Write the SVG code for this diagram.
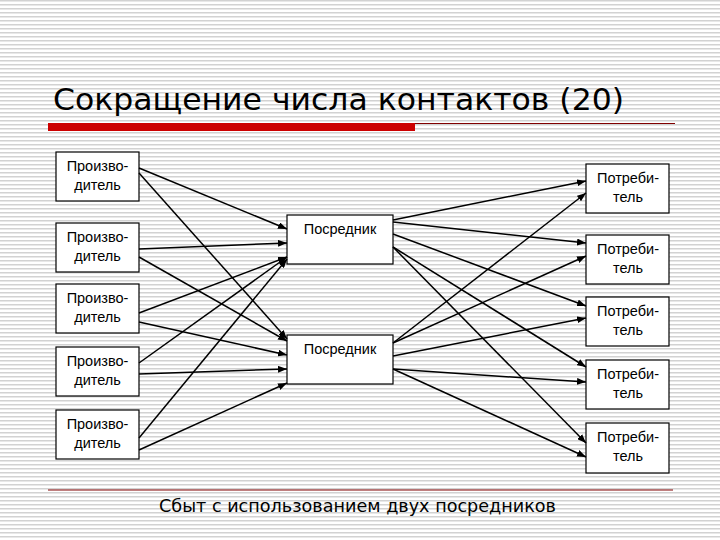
<svg xmlns="http://www.w3.org/2000/svg" width="720" height="540" viewBox="0 0 720 540">
<defs>
<pattern id="stripes" x="0" y="0" width="8" height="4" patternUnits="userSpaceOnUse">
<rect x="0" y="0" width="8" height="4" fill="#ffffff"/>
<rect x="0" y="0" width="8" height="1.5" fill="#d2d2d2"/>
</pattern>
<marker id="arr" markerUnits="userSpaceOnUse" markerWidth="9" markerHeight="7" refX="9" refY="3.5" orient="auto">
<path d="M0,0 L9,3.5 L0,7 z" fill="#000"/>
</marker>
</defs>
<style>
.box{fill:#fff;stroke:#000;stroke-width:1.2}
.lbl{font-family:"Liberation Sans",Arial,sans-serif;font-size:14.5px;fill:#000;text-anchor:middle}
.con line{stroke:#000;stroke-width:1.5;marker-end:url(#arr)}
</style>
<rect x="0" y="0" width="720" height="540" fill="url(#stripes)"/>
<text x="53" y="110" font-family="'DejaVu Sans',Verdana,sans-serif" font-size="31" fill="#000" textLength="571" lengthAdjust="spacingAndGlyphs">Сокращение числа контактов (20)</text>
<rect x="48" y="123" width="367" height="8" fill="#cc0000"/>
<line x1="415" y1="123.5" x2="675" y2="123.5" stroke="#800000" stroke-width="1"/>
<line x1="48" y1="490" x2="673" y2="490" stroke="#800000" stroke-width="1"/>
<text x="159" y="512" font-family="'DejaVu Sans',Verdana,sans-serif" font-size="17" fill="#000" textLength="397" lengthAdjust="spacingAndGlyphs">Сбыт с использованием двух посредников</text>

<g id="p1"><rect class="box" x="56" y="152" width="83" height="49"/><text class="lbl" x="97.5" y="171">Произво-</text><text class="lbl" x="97.5" y="190">дитель</text></g>
<g id="p2"><rect class="box" x="56" y="223" width="83" height="49"/><text class="lbl" x="97.5" y="242">Произво-</text><text class="lbl" x="97.5" y="261">дитель</text></g>
<g id="p3"><rect class="box" x="56" y="284" width="83" height="49"/><text class="lbl" x="97.5" y="303">Произво-</text><text class="lbl" x="97.5" y="322">дитель</text></g>
<g id="p4"><rect class="box" x="56" y="347" width="83" height="49"/><text class="lbl" x="97.5" y="366">Произво-</text><text class="lbl" x="97.5" y="385">дитель</text></g>
<g id="p5"><rect class="box" x="56" y="410" width="83" height="49"/><text class="lbl" x="97.5" y="429">Произво-</text><text class="lbl" x="97.5" y="448">дитель</text></g>

<g id="m1"><rect class="box" x="287" y="215" width="106" height="49"/><text class="lbl" x="340" y="234">Посредник</text></g>
<g id="m2"><rect class="box" x="287" y="335" width="106" height="49"/><text class="lbl" x="340" y="354">Посредник</text></g>

<g id="c1"><rect class="box" x="586" y="164" width="83" height="49"/><text class="lbl" x="628" y="183">Потреби-</text><text class="lbl" x="628" y="202">тель</text></g>
<g id="c2"><rect class="box" x="586" y="235" width="83" height="49"/><text class="lbl" x="628" y="254">Потреби-</text><text class="lbl" x="628" y="273">тель</text></g>
<g id="c3"><rect class="box" x="586" y="297" width="83" height="49"/><text class="lbl" x="628" y="316">Потреби-</text><text class="lbl" x="628" y="335">тель</text></g>
<g id="c4"><rect class="box" x="586" y="360" width="83" height="49"/><text class="lbl" x="628" y="379">Потреби-</text><text class="lbl" x="628" y="398">тель</text></g>
<g id="c5"><rect class="box" x="586" y="423" width="83" height="50"/><text class="lbl" x="628" y="442">Потреби-</text><text class="lbl" x="628" y="461">тель</text></g>

<g id="connectors" class="con">
<line x1="139" y1="168" x2="287" y2="229"/>
<line x1="139" y1="249" x2="287" y2="243"/>
<line x1="139" y1="313" x2="287" y2="257"/>
<line x1="139" y1="363" x2="287" y2="257"/>
<line x1="139" y1="438" x2="287" y2="259"/>
<line x1="139" y1="173" x2="287" y2="339"/>
<line x1="139" y1="257" x2="287" y2="341"/>
<line x1="139" y1="322" x2="287" y2="355"/>
<line x1="139" y1="374" x2="287" y2="369"/>
<line x1="139" y1="450" x2="287" y2="383"/>
<line x1="393" y1="220" x2="586" y2="181"/>
<line x1="393" y1="222" x2="586" y2="243"/>
<line x1="393" y1="234" x2="586" y2="306"/>
<line x1="393" y1="247" x2="586" y2="367"/>
<line x1="393" y1="247" x2="586" y2="443"/>
<line x1="393" y1="343" x2="586" y2="193"/>
<line x1="393" y1="343" x2="586" y2="256"/>
<line x1="393" y1="356" x2="586" y2="318"/>
<line x1="393" y1="369" x2="586" y2="382"/>
<line x1="393" y1="369" x2="586" y2="457"/>
</g>
</svg>
